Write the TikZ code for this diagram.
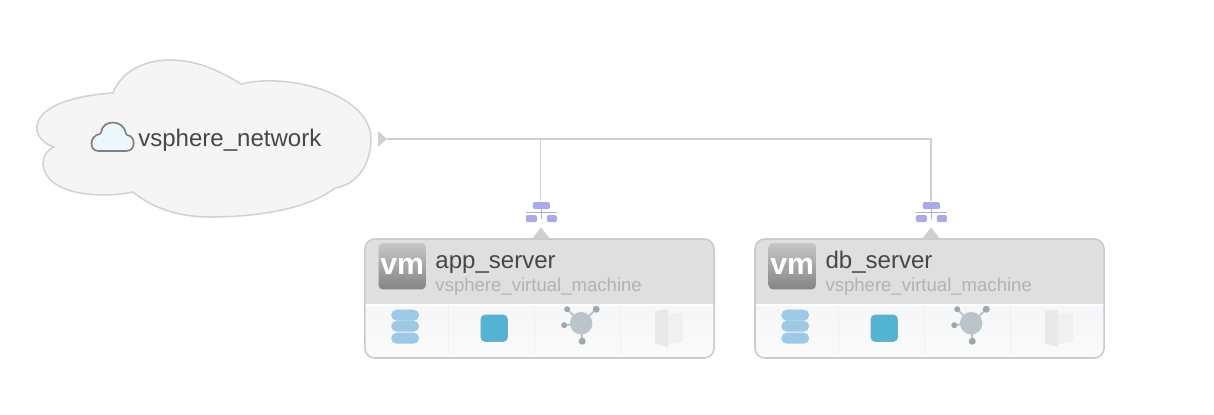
\documentclass[tikz,border=0pt]{standalone}
\usepackage{fontspec}
\setmainfont{Liberation Sans}
\usepackage{xcolor}
\usetikzlibrary{arrows.meta,positioning,calc}
\definecolor{wireline}{HTML}{D0D0D0}
\definecolor{cloudline}{HTML}{D2D2D2}
\definecolor{cloudfill}{HTML}{F5F5F5}
\definecolor{boxline}{HTML}{CACACF}
\definecolor{headfill}{HTML}{DFDFDF}
\definecolor{paneltop}{HTML}{F0F2F6}
\definecolor{panelbot}{HTML}{FAFAFA}
\definecolor{netblue}{HTML}{A8ACE2}
\definecolor{stackblue}{HTML}{9CC9E5}
\definecolor{cpublue}{HTML}{52B4D2}
\definecolor{hubgray}{HTML}{BAC5CA}
\definecolor{pagegray}{HTML}{E9E9E9}
\newcommand{\vmparts}[3]{%
  \begin{scope}[shift={(#1.north west)}]
    \foreach \dx in {84,170,256}
      \draw[white!70!boxline] (\dx,67) -- (\dx,116);
    \node[logobox] (#1logo) at (38,28) {vm};
    \node[titletext] (#1title) at (71,30.5) {#2};
    \node[subtext] (#1sub) at (71,53.5) {#3};
    % disk stack
    \foreach \dy in {77,88,100}
      \fill[stackblue,rounded corners=4pt] (27,\dy-5.5) rectangle (55,\dy+5.5);
    % cpu
    \node[cpubox] (#1cpu) at (130,90) {};
    % network hub
    \node[hubdot,minimum size=16pt] (#1hub) at (217,85) {};
    \foreach \hx/\hy/\hs in {203/71/6,232/71/7,200/87/6,218/103/7}{
      \draw[hubgray,line width=1.4pt] (217,85) -- (\hx,\hy);
      \fill[hubgray!85!black] (\hx,\hy) circle[radius=\hs/2];
    }
    % volume pages
    \fill[pagegray] (291,73) -- (304,71) -- (304,109) -- (291,105) -- cycle;
    \fill[pagegray!70!white] (304,76) -- (319,74) -- (319,103) -- (304,106) -- cycle;
  \end{scope}
}
\newcommand{\neticon}[1]{%
  \begin{scope}[shift={(#1.center)}]
    \fill[netblue,rounded corners=1pt] (-8,-9) rectangle (9,-2);
    \draw[netblue,line width=1pt] (0.5,-2) -- (0.5,8);
    \draw[netblue,line width=1pt] (-15,1.5) -- (16,1.5);
    \fill[netblue,rounded corners=1pt] (-15,4) rectangle (-4,11);
    \fill[netblue,rounded corners=1pt] (6,4) rectangle (16,11);
  \end{scope}
}
\begin{document}
\begin{tikzpicture}[
  x=0.025cm,y=-0.025cm,
  cloudshape/.style={draw=cloudline,fill=cloudfill,line width=1.1pt},
  vmbox/.style={draw=boxline,line width=1.1pt,rounded corners=7pt,
                minimum width=8.725cm,minimum height=2.975cm,inner sep=0pt,
                path picture={
                  \shade[sharp corners,top color=paneltop,bottom color=panelbot]
                    (path picture bounding box.north west) rectangle
                    (path picture bounding box.south east);
                  \fill[sharp corners,headfill] (path picture bounding box.north west) rectangle
                    ($(path picture bounding box.north east)+(0,-1.62cm)$);
                  \fill[sharp corners,white] ($(path picture bounding box.north west)+(0,-1.62cm)$) rectangle
                    ($(path picture bounding box.north east)+(0,-1.68cm)$);}},
  logobox/.style={rounded corners=3pt,minimum width=1.18cm,minimum height=1.16cm,inner sep=0pt,
                  top color=black!22,bottom color=black!48,text=white,
                  font=\fontsize{21.5}{21.5}\selectfont\bfseries},
  titletext/.style={anchor=base west,inner sep=0pt,text=black!72,font=\fontsize{17.1}{19}\selectfont},
  subtext/.style={anchor=base west,inner sep=0pt,text=black!30,font=\fontsize{13.2}{15}\selectfont},
  cpubox/.style={draw=cpublue!75!black!70,fill=cpublue,rounded corners=3pt,line width=0.6pt,
                 minimum size=0.66cm,inner sep=0pt},
  hubdot/.style={circle,fill=hubgray,inner sep=0pt},
  porttri/.style={fill=wireline,draw=none},
  netspot/.style={inner sep=0pt,minimum width=0.85cm,minimum height=0.5cm,xshift=0.035cm},
  wire/.style={draw=wireline,line width=0.8pt}]
\useasboundingbox (0,0) rectangle (1214,414);
% network cloud
\draw[cloudshape] (113,93)
  .. controls (122,70) and (146,60) .. (170,60)
  .. controls (198,60) and (222,72) .. (241,84)
  .. controls (290,72) and (372,95) .. (371,140)
  .. controls (370,168) and (355,185) .. (335,188)
  .. controls (310,208) and (260,217) .. (210,217)
  .. controls (175,217) and (150,206) .. (133,192)
  .. controls (100,199) and (44,195) .. (43,163)
  .. controls (43,156) and (47,150) .. (54,147)
  .. controls (42,143) and (36,135) .. (37,126)
  .. controls (40,104) and (80,95) .. (113,93) -- cycle;
\node[inner sep=0pt,anchor=base west,text=black!72,font=\fontsize{17.1}{19}\selectfont]
  (netlabel) at (138,146) {vsphere\_network};
\draw[draw=black!50,fill=white!92!cyan,line width=1.2pt,rounded corners=1pt]
  (100,151) .. controls (88,151) and (90,135) .. (101,134)
  .. controls (102,119) and (124,119) .. (126,135)
  .. controls (136,136) and (136,151) .. (125,151) -- cycle;
\node[draw=none,inner sep=0pt,minimum size=8pt] (netport) at (381,139) {};
\fill[porttri] (378,131) -- (387,139) -- (378,147) -- cycle;
% servers
\node[vmbox] (app) at (539.5,298.5) {};
\node[vmbox,right=0.985cm of app] (db) {};
\vmparts{app}{app\_server}{vsphere\_virtual\_machine}
\vmparts{db}{db\_server}{vsphere\_virtual\_machine}
% ports and links
\node[netspot,above=0.42cm of app] (appnet) {};
\node[netspot,above=0.42cm of db] (dbnet) {};
\neticon{appnet}
\neticon{dbnet}
\fill[porttri] ($(app.north)+(-7,0)$) -- ($(app.north)+(1.5,-11)$) -- ($(app.north)+(10,0)$) -- cycle;
\fill[porttri] ($(db.north)+(-7,0)$) -- ($(db.north)+(1.5,-11)$) -- ($(db.north)+(10,0)$) -- cycle;
\draw[wire] (netport.east) -| (dbnet.north);
\draw[wire] (netport.east -| appnet.north) -- (appnet.north);
\end{tikzpicture}
\end{document}
